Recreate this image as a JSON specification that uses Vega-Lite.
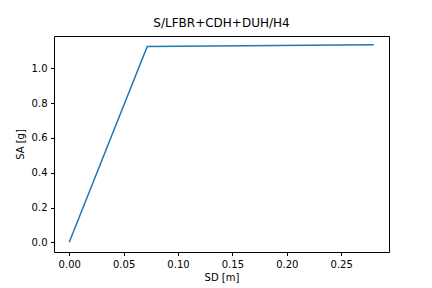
{
  "$schema": "https://vega.github.io/schema/vega-lite/v6.json",
  "width": 335,
  "height": 216,
  "autosize": {"type": "none"},
  "padding": {"left": 54, "top": 36, "right": 43, "bottom": 36},
  "background": "white",
  "title": {"text": "S/LFBR+CDH+DUH/H4", "fontSize": 12, "fontWeight": "normal", "font": "DejaVu Sans", "color": "black", "offset": 6},
  "config": {
    "view": {"stroke": "black", "strokeWidth": 1},
    "axis": {
      "grid": false,
      "domain": false,
      "tickColor": "black",
      "tickSize": 3.5,
      "labelFont": "DejaVu Sans",
      "labelFontSize": 10,
      "labelColor": "black",
      "titleFont": "DejaVu Sans",
      "titleFontSize": 10,
      "titleFontWeight": "normal",
      "titleColor": "black",
      "labelPadding": 3.5
    }
  },
  "data": {"values": [
    {"sd": 0.0, "sa": 0.0},
    {"sd": 0.0717, "sa": 1.126},
    {"sd": 0.28, "sa": 1.135}
  ]},
  "mark": {"type": "line", "color": "#1f77b4", "strokeWidth": 1.5},
  "encoding": {
    "x": {"field": "sd", "type": "quantitative", "title": "SD [m]",
      "scale": {"domain": [-0.014, 0.294], "nice": false, "zero": false},
      "axis": {"values": [0, 0.05, 0.1, 0.15, 0.2, 0.25], "format": ".2f", "titlePadding": 3}},
    "y": {"field": "sa", "type": "quantitative", "title": "SA [g]",
      "scale": {"domain": [-0.0557, 1.186], "nice": false, "zero": false},
      "axis": {"values": [0, 0.2, 0.4, 0.6, 0.8, 1.0], "format": ".1f", "titlePadding": 6}},
    "order": {"field": "sd", "type": "quantitative"}
  }
}
